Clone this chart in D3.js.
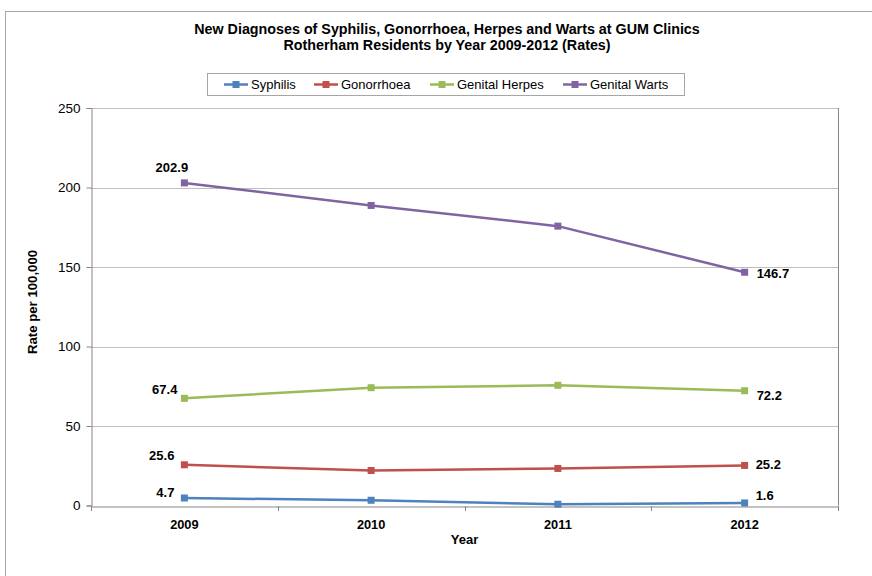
<!DOCTYPE html>
<html><head><meta charset="utf-8">
<script src="https://cdn.jsdelivr.net/npm/d3@7"></script>
<style>
body{margin:0;background:#fff;}
text{font-family:"Liberation Sans",Arial,sans-serif;}
</style></head>
<body><svg id="c" width="872" height="576"></svg>
<script>
const years = ["2009","2010","2011","2012"];
const seriesNames = ["Syphilis","Gonorrhoea","Genital Herpes","Genital Warts"];
const syphilis = [4.7, 3.3, 0.8, 1.6];
const gonorrhoea = [25.6, 22.0, 23.3, 25.2];
const herpes = [67.4, 74.1, 75.6, 72.2];
const warts = [202.9, 188.7, 175.7, 146.7];
const yTicks = [0, 50, 100, 150, 200, 250];
const titleLines = ["New Diagnoses of Syphilis, Gonorrhoea, Herpes and Warts at GUM Clinics","Rotherham Residents by Year 2009-2012 (Rates)"];
const colors = ["#4F81BD","#C0504D","#9BBB59","#8064A2"];
const seriesValues = [syphilis, gonorrhoea, herpes, warts];
// label offsets (first & last points): [dx, dy, anchor]
const firstLabelPos = [[-10,-1,"end"],[-10,-4.5,"end"],[-7,-4.5,"end"],[-12.5,-11,"middle"]];
const lastLabelPos = [[11,-3,"start"],[11,4,"start"],[12,9.5,"start"],[12,5.5,"start"]];

const svg = d3.select("#c");
const L = 91, R = 838, T = 108, B = 505.5;
const FONT = "'Liberation Sans',Arial,sans-serif";

// outer chart border
svg.append("rect").attr("x",5.5).attr("y",11.5).attr("width",900).attr("height",600)
  .attr("fill","#fff").attr("stroke","#a6a6a6").attr("stroke-width",1);

const x = d3.scaleBand().domain(years).range([L,R]).padding(0);
const y = d3.scaleLinear().domain([0,250]).range([B,T]);

// gridlines
svg.append("g").selectAll("line").data(yTicks.filter(d=>d>0)).join("line")
  .attr("x1",L).attr("x2",R).attr("y1",d=>Math.round(y(d))+0.5).attr("y2",d=>Math.round(y(d))+0.5)
  .attr("stroke","#bfbfbf").attr("stroke-width",1);
// plot right border
svg.append("line").attr("x1",R+0.5).attr("x2",R+0.5).attr("y1",T).attr("y2",B).attr("stroke","#868686");

// y axis
const yAxis = d3.axisLeft(y).tickValues(yTicks).tickSize(5).tickPadding(6).tickFormat(d3.format("d"));
const gy = svg.append("g").attr("transform",`translate(${L+0.5},0)`).call(yAxis);
gy.select(".domain").attr("stroke","#868686");
gy.selectAll(".tick line").attr("stroke","#868686");
gy.selectAll(".tick text").attr("font-size","13.5px").attr("fill","#000").attr("font-family",FONT);

// x axis
const xAxis = d3.axisBottom(x).tickSize(0).tickPadding(13);
const gx = svg.append("g").attr("transform",`translate(0,${Math.round(B)+0.5})`).call(xAxis);
gx.select(".domain").attr("stroke","#868686");
gx.selectAll(".tick text").attr("font-size","12.8px").attr("font-weight","bold").attr("fill","#000").attr("font-family",FONT);
// category boundary ticks
const bounds = years.map(d=>x(d)).concat([R]);
svg.append("g").selectAll("line").data(bounds).join("line")
  .attr("x1",d=>Math.round(d)+0.5).attr("x2",d=>Math.round(d)+0.5)
  .attr("y1",Math.round(B)).attr("y2",Math.round(B)+5).attr("stroke","#868686");

const cx = d => x(d) + x.bandwidth()/2;
const line = d3.line().x((v,i)=>cx(years[i])).y(v=>y(v));

seriesValues.forEach((vals,si)=>{
  const g = svg.append("g");
  g.append("path").datum(vals).attr("d",line).attr("fill","none")
    .attr("stroke",colors[si]).attr("stroke-width",2.5).attr("stroke-linejoin","round");
  g.selectAll("rect").data(vals).join("rect")
    .attr("x",(v,i)=>cx(years[i])-3.5).attr("y",v=>y(v)-3.5).attr("width",7).attr("height",7)
    .attr("fill",colors[si]);
  const fp = firstLabelPos[si], lp = lastLabelPos[si];
  g.append("text").attr("x",cx(years[0])+fp[0]).attr("y",y(vals[0])+fp[1])
    .attr("text-anchor",fp[2]).attr("font-size","13px").attr("font-weight","bold").text(vals[0].toFixed(1));
  const n = vals.length-1;
  g.append("text").attr("x",cx(years[n])+lp[0]).attr("y",y(vals[n])+lp[1])
    .attr("text-anchor",lp[2]).attr("font-size","13px").attr("font-weight","bold").text(vals[n].toFixed(1));
});

// title
svg.append("g").selectAll("text").data(titleLines).join("text")
  .attr("x",447).attr("y",(d,i)=>34+i*16).attr("text-anchor","middle")
  .attr("font-size","14.3px").attr("font-weight","bold").text(d=>d);

// axis titles
svg.append("text").attr("transform",`translate(37,302) rotate(-90)`).attr("text-anchor","middle")
  .attr("font-size","13.2px").attr("font-weight","bold").text("Rate per 100,000");
svg.append("text").attr("x",(L+R)/2).attr("y",544).attr("text-anchor","middle")
  .attr("font-size","13px").attr("font-weight","bold").text("Year");

// legend
const lg = svg.append("g");
lg.append("rect").attr("x",207.5).attr("y",73.5).attr("width",477).attr("height",22)
  .attr("fill","#fff").attr("stroke","#a6a6a6");
const legX = [224, 314, 430, 563];
seriesNames.forEach((nm,i)=>{
  lg.append("line").attr("x1",legX[i]).attr("x2",legX[i]+24).attr("y1",84.5).attr("y2",84.5)
    .attr("stroke",colors[i]).attr("stroke-width",2.5);
  lg.append("rect").attr("x",legX[i]+8.5).attr("y",81).attr("width",7).attr("height",7).attr("fill",colors[i]);
  lg.append("text").attr("x",legX[i]+27).attr("y",89).attr("font-size","13px").text(nm);
});
</script></body></html>
